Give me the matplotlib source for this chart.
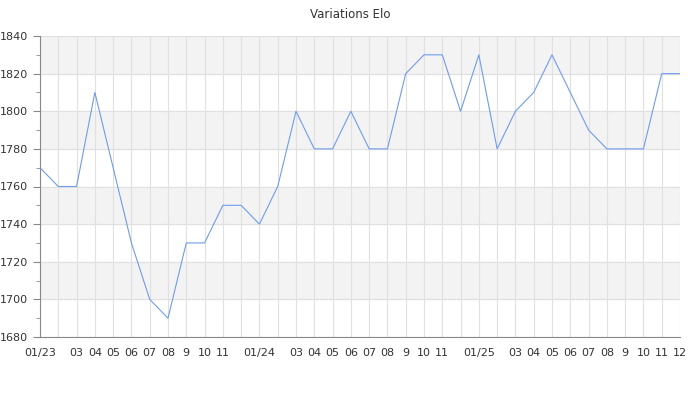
import matplotlib
matplotlib.use("Agg")
import matplotlib.pyplot as plt
from matplotlib.ticker import MultipleLocator

# monthly Elo, 01/2023 .. 12/2025
months = list(range(36))
elo = [1770, 1760, 1760, 1810, 1770, 1730, 1700, 1690, 1730, 1730, 1750, 1750,
       1740, 1760, 1800, 1780, 1780, 1800, 1780, 1780, 1820, 1830, 1830, 1800,
       1830, 1780, 1800, 1810, 1830, 1810, 1790, 1780, 1780, 1780, 1820, 1820]
month_labels = ["01/23", "", "03", "04", "05", "06", "07", "08", "9", "10", "11", "",
                "01/24", "", "03", "04", "05", "06", "07", "08", "9", "10", "11", "",
                "01/25", "", "03", "04", "05", "06", "07", "08", "9", "10", "11", "12"]
band_starts = [1700, 1740, 1780, 1820]

fig = plt.figure(figsize=(7, 4), dpi=100)
ax = fig.add_axes([40 / 700, 63 / 400, 640 / 700, 301 / 400])

for b in band_starts:
    ax.axhspan(b, b + 20, color="#f3f3f3", zorder=0)

ax.plot(months, elo, color="#6f9ceb", linewidth=0.8, zorder=3)

ax.set_xlim(0, 35)
ax.set_ylim(1680, 1840)
ax.set_xticks(months)
ax.set_xticklabels(month_labels)
ax.yaxis.set_major_locator(MultipleLocator(20))
ax.yaxis.set_minor_locator(MultipleLocator(10))

ax.grid(True, which="major", color="#e0e0e0", linewidth=0.8, zorder=1)
ax.set_axisbelow(True)

for side in ["top", "right"]:
    ax.spines[side].set_visible(False)
for side in ["left", "bottom"]:
    ax.spines[side].set_color("#888888")
    ax.spines[side].set_linewidth(0.8)

ax.tick_params(axis="x", length=0, pad=8, labelsize=8, labelcolor="#333333")
ax.tick_params(axis="y", which="major", length=5, color="#888888",
               labelsize=8, labelcolor="#333333")
ax.tick_params(axis="y", which="minor", length=3, color="#888888")

fig.suptitle("Variations Elo", y=0.98, fontsize=8.5, color="#333333")

fig.savefig("out.png", dpi=100)
